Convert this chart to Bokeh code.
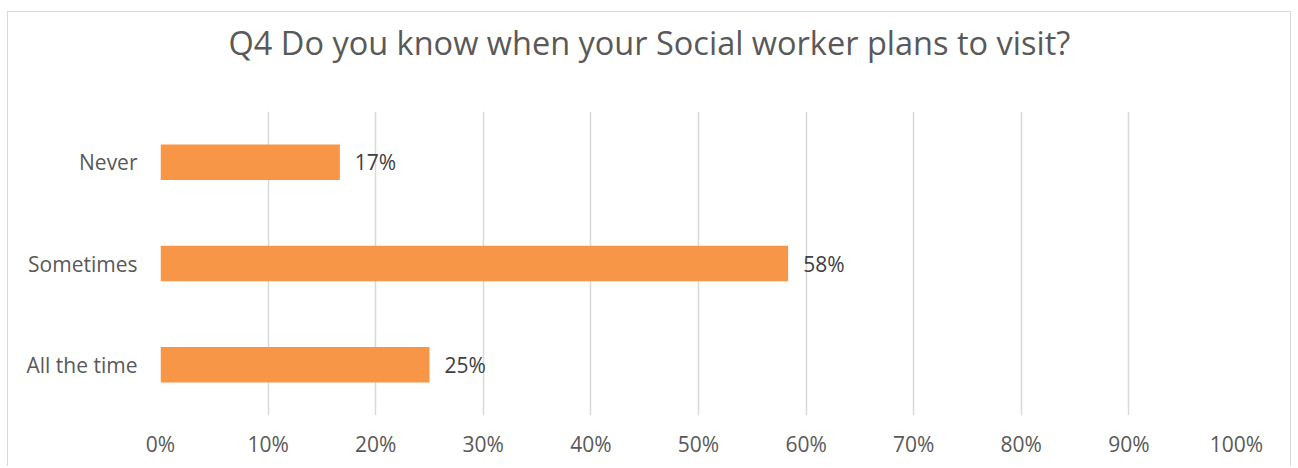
from bokeh.plotting import figure
from bokeh.models import ColumnDataSource, FactorRange, FixedTicker, PrintfTickFormatter, LabelSet, Range1d, Title
from bokeh.core.properties import value
from bokeh.embed import file_html
from bokeh.resources import INLINE

categories = ["All the time", "Sometimes", "Never"]
values = [25.0, 58.33, 16.67]
tick_values = [0, 10, 20, 30, 40, 50, 60, 70, 80, 90, 100]
title_text = "Q4 Do you know when your Social worker plans to visit?"

FONT = "Open Sans"
TEXT = "#595959"

src = ColumnDataSource(dict(
    cat=categories,
    val=values,
    lab=[f"{round(v)}%" for v in values],
))

p = figure(width=1284, height=455, output_backend="svg", toolbar_location=None,
           y_range=FactorRange(*categories), x_range=Range1d(0, 100))
p.margin = (11, 0, 0, 7)
p.min_border_left = 152
p.min_border_right = 56
p.min_border_top = 98
p.min_border_bottom = 52
p.outline_line_color = None
p.background_fill_color = "white"
p.border_fill_color = "white"
p.styles = {"border-top": "1px solid #d9d9d9", "border-left": "1px solid #d9d9d9",
            "border-right": "1px solid #d9d9d9"}

# spacer panel between the title and the plotting area
spacer = Title(text=" ", text_font_size="1px", standoff=39)
p.add_layout(spacer, "above")
main_title = Title(text=title_text, align="left", offset=68, standoff=10,
                   text_font=FONT, text_font_size="32.5px", text_font_style="normal",
                   text_color=TEXT)
p.add_layout(main_title, "above")

p.hbar(y="cat", right="val", left=0, height=0.35, source=src,
       fill_color="#F79646", line_color=None)

labels = LabelSet(x="val", y="cat", text="lab", source=src, x_offset=15,
                  text_baseline="middle", text_align="left",
                  text_font_size="21px", text_color="#404040", text_font=value(FONT))
p.add_layout(labels)

p.xaxis.ticker = FixedTicker(ticks=tick_values)
p.xaxis.formatter = PrintfTickFormatter(format="%d%%")
for ax in (p.xaxis[0], p.yaxis[0]):
    ax.axis_line_color = None
    ax.major_tick_line_color = None
    ax.minor_tick_line_color = None
    ax.major_label_text_font = FONT
    ax.major_label_text_font_size = "21px"
    ax.major_label_text_color = TEXT
p.xaxis.major_label_standoff = 8
p.yaxis.major_label_standoff = 17

p.xgrid.grid_line_color = "#d9d9d9"
p.xgrid.grid_line_width = 1.5
p.ygrid.grid_line_color = None

open("out.html", "w").write(file_html(p, INLINE))
